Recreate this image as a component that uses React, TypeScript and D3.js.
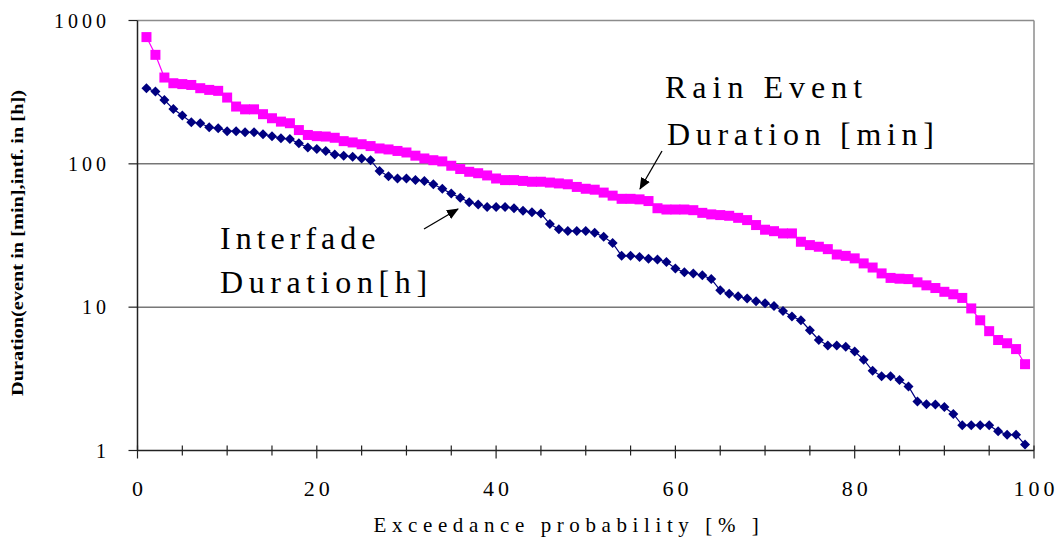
import React from "react";
import * as d3 from "d3";

const probability = [
  1, 2, 3, 4, 5, 6, 7, 8, 9, 10, 11, 12, 13, 14, 15, 16, 17, 18, 19, 20,
  21, 22, 23, 24, 25, 26, 27, 28, 29, 30, 31, 32, 33, 34, 35, 36, 37, 38, 39, 40,
  41, 42, 43, 44, 45, 46, 47, 48, 49, 50, 51, 52, 53, 54, 55, 56, 57, 58, 59, 60,
  61, 62, 63, 64, 65, 66, 67, 68, 69, 70, 71, 72, 73, 74, 75, 76, 77, 78, 79, 80,
  81, 82, 83, 84, 85, 86, 87, 88, 89, 90, 91, 92, 93, 94, 95, 96, 97, 98, 99,
];

const rainEventMin = [
  766, 576, 400, 365, 360, 355, 337, 328, 323, 290,
  251, 240, 240, 222, 208, 197, 192, 172, 159, 156,
  155, 152, 144, 141, 137, 133, 128, 126, 123, 120,
  114, 109, 106, 104, 97, 92, 88, 86, 83, 79,
  77, 77, 76, 75, 75, 74, 73, 72, 69, 67,
  66, 63, 60, 57, 57, 56.5, 55, 49, 48, 48,
  48, 47.5, 45.5, 44.4, 43.9, 43.4, 42, 40.5, 37.4, 34.7,
  33.9, 32.7, 32.7, 28.6, 27.1, 26.4, 25.4, 23.3, 22.8, 21.9,
  20.2, 18.9, 17.2, 16.0, 15.8, 15.7, 14.9, 14.2, 13.6, 12.8,
  12.3, 11.6, 9.8, 8.1, 6.8, 5.9, 5.6, 5.1, 4.0,
];

const interfadeH = [
  337, 319, 279, 241, 217, 195, 192, 180, 177, 169,
  169, 166, 166, 161, 156, 151, 149, 139, 130, 127,
  123, 116, 114, 112, 109, 106, 89, 82, 79, 79,
  77, 76, 72, 67, 62, 58, 54, 52, 50, 50,
  50, 49, 47, 46, 45, 38, 35, 34, 34, 34,
  33, 31, 28, 22.8, 22.8, 22.4, 21.8, 21.5, 20.7, 18.6,
  17.5, 17.2, 16.7, 15.7, 13.1, 12.4, 11.9, 11.5, 11.0, 10.65,
  10.2, 9.4, 8.6, 8.1, 6.9, 5.9, 5.4, 5.4, 5.3, 4.9,
  4.3, 3.6, 3.3, 3.3, 3.1, 2.8, 2.2, 2.1, 2.09, 2.01,
  1.8, 1.5, 1.5, 1.5, 1.5, 1.36, 1.29, 1.29, 1.1,
];

const xMajorTicks = [0, 20, 40, 60, 80, 100];
const xMinorTicks = [0, 5, 10, 15, 20, 25, 30, 35, 40, 45, 50, 55, 60, 65, 70, 75, 80, 85, 90, 95, 100];
const yTicks = [1, 10, 100, 1000];
const yTickLabels = ["1", "10", "100", "1000"];

const SERIF = "'Liberation Serif', 'Times New Roman', serif";

export default function App() {
  const W = 1057;
  const H = 540;
  const left = 137.5;
  const right = 1034;
  const top = 20.5;
  const bottom = 450.5;

  const x = d3.scaleLinear().domain([0, 100]).range([left, right]);
  const y = d3.scaleLog().domain([1, 1000]).range([bottom, top]);

  const pinkPts = probability.map((p, i) => [x(p), y(rainEventMin[i])] as [number, number]);
  const navyPts = probability.map((p, i) => [x(p), y(interfadeH[i])] as [number, number]);
  const line = d3.line();

  const sq = 5;
  const dm = 5;

  return (
    <svg width={W} height={H} style={{ position: "absolute", left: 0, top: 0, background: "#fff" }}>
      <defs>
        <marker id="ah" viewBox="0 0 12 10" refX="11" refY="5" markerWidth="12" markerHeight="10" markerUnits="userSpaceOnUse" orient="auto">
          <path d="M0,0 L12,5 L0,10 Z" fill="#000" />
        </marker>
      </defs>

      {/* gridlines */}
      {yTicks.filter((t) => t > 1 && t < 1000).map((t) => (
        <line key={"g" + t} x1={left} x2={right} y1={y(t)} y2={y(t)} stroke="#333" strokeWidth={1} />
      ))}
      {/* top & right border */}
      <line x1={left} x2={right} y1={top} y2={top} stroke="#8c8c8c" strokeWidth={1.5} />
      <line x1={right} x2={right} y1={top} y2={bottom} stroke="#8c8c8c" strokeWidth={1.5} />

      {/* series lines */}
      <path d={line(pinkPts) || ""} fill="none" stroke="#ff00ff" strokeWidth={1.2} />
      <path d={line(navyPts) || ""} fill="none" stroke="#000080" strokeWidth={1.2} />

      {/* markers */}
      {pinkPts.map(([px, py], i) => (
        <rect key={"p" + i} x={px - sq} y={py - sq} width={sq * 2} height={sq * 2} fill="#ff00ff" />
      ))}
      {navyPts.map(([px, py], i) => (
        <path key={"n" + i} d={`M${px},${py - dm}L${px + dm},${py}L${px},${py + dm}L${px - dm},${py}Z`} fill="#000080" />
      ))}

      {/* axes */}
      <line x1={left} x2={left} y1={top} y2={bottom} stroke="#222" strokeWidth={1.5} />
      <line x1={left} x2={right} y1={bottom} y2={bottom} stroke="#222" strokeWidth={1.5} />

      {yTicks.map((t, i) => (
        <g key={"y" + t}>
          <line x1={left - 9} x2={left} y1={y(t)} y2={y(t)} stroke="#222" strokeWidth={1.2} />
          <text x={110} y={y(t)} dy="0.35em" textAnchor="end" fontFamily={SERIF} fontSize={20} letterSpacing={4}>
            {yTickLabels[i]}
          </text>
        </g>
      ))}

      {xMinorTicks.map((t) => {
        const major = xMajorTicks.includes(t);
        return (
          <line key={"xm" + t} x1={x(t)} x2={x(t)} y1={bottom - 5} y2={bottom + (major ? 8 : 5)} stroke="#222" strokeWidth={1.2} />
        );
      })}
      {xMajorTicks.map((t) => (
        <text key={"xl" + t} x={x(t) + 2} y={496} textAnchor="middle" fontFamily={SERIF} fontSize={22} letterSpacing={4}>
          {t}
        </text>
      ))}

      {/* axis titles */}
      <text x={569} y={532} textAnchor="middle" fontFamily={SERIF} fontSize={21} letterSpacing={5.6}>
        Exceedance probability [% ]
      </text>
      <text
        transform={`translate(23,243) rotate(-90)`}
        textAnchor="middle"
        fontFamily={SERIF}
        fontSize={17}
        fontWeight="bold"
        textLength={306}
        lengthAdjust="spacingAndGlyphs"
      >
        Duration(event in [min],intf. in [h])
      </text>

      {/* annotations */}
      <text x={665} y={98} fontFamily={SERIF} fontSize={32} letterSpacing={6}>Rain Event</text>
      <text x={667} y={145} fontFamily={SERIF} fontSize={32} letterSpacing={5.7}>Duration [min]</text>
      <line x1={662} y1={151} x2={640} y2={189} stroke="#000" strokeWidth={1.3} markerEnd="url(#ah)" />

      <text x={220} y={249} fontFamily={SERIF} fontSize={32} letterSpacing={5}>Interfade</text>
      <text x={220} y={293} fontFamily={SERIF} fontSize={32} letterSpacing={5.6}>Duration[h]</text>
      <line x1={424} y1={229} x2={458} y2={209} stroke="#000" strokeWidth={1.3} markerEnd="url(#ah)" />
    </svg>
  );
}
